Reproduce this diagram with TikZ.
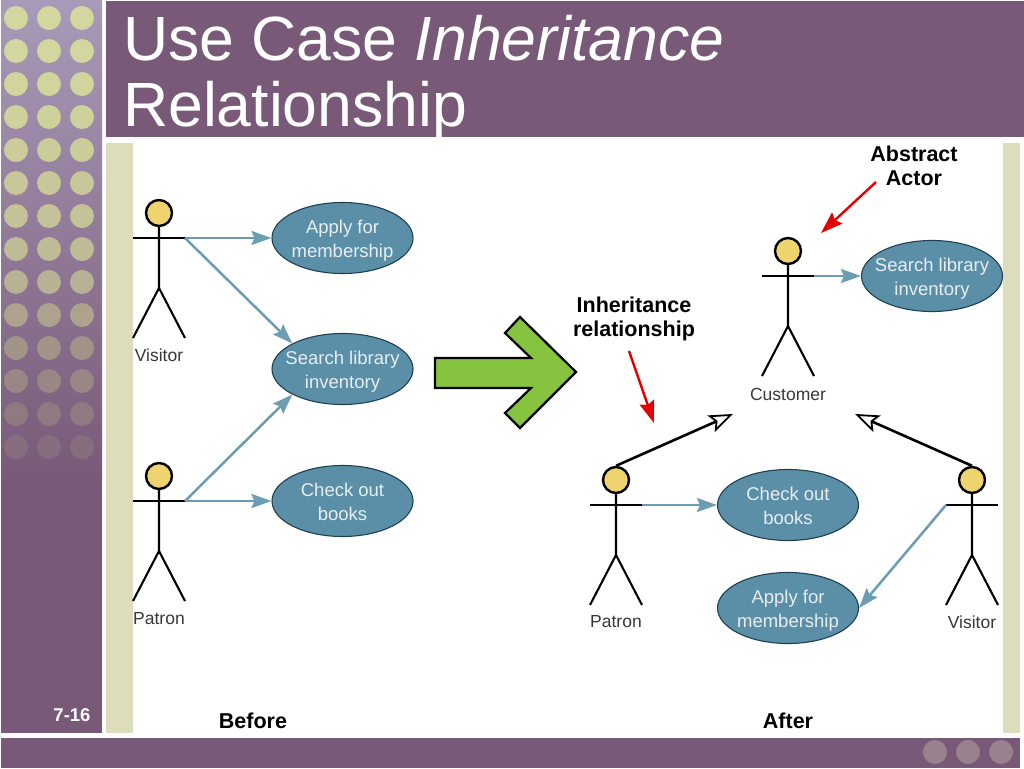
\documentclass[tikz,border=0pt]{standalone}
\usepackage{fontspec}
\setmainfont{Liberation Sans}
\usetikzlibrary{arrows.meta,shapes.geometric}
\definecolor{plum}{HTML}{785A78}
\definecolor{bandtop}{HTML}{A89AB8}
\definecolor{cream}{HTML}{DDDDBB}
\definecolor{dotc}{HTML}{D3D69E}
\definecolor{uc}{HTML}{5B8FA8}
\definecolor{ucedge}{HTML}{1F4050}
\definecolor{flow}{HTML}{6C9DB0}
\definecolor{headc}{HTML}{EFD36E}
\definecolor{arrowgreen}{HTML}{86C440}
\tikzset{
  x=1pt,y=-1pt,
  usecase/.style={ellipse,draw=ucedge,line width=1.1pt,fill=uc,minimum width=141pt,minimum height=71pt,inner sep=0pt,text=white!85!uc,font=\fontsize{18.5}{24}\selectfont},
  headnode/.style={circle,draw=black,line width=2.4pt,fill=headc,minimum size=26pt,inner sep=0pt},
  limb/.style={draw=black,line width=2.1pt},
  actorlabel/.style={font=\fontsize{17.5}{20}\selectfont,text=black!78},
  flowline/.style={draw=flow,line width=2.5pt,-{Stealth[length=20pt,width=14pt,inset=3pt]}},
  inherit/.style={draw=black,line width=2.6pt,-{Stealth[open,fill=white,length=24pt,width=18pt,inset=5pt,line width=1.8pt]}},
  callout/.style={draw=red!90!black,line width=2.4pt,-{Stealth[length=22pt,width=15pt,inset=3pt]}},
  capt/.style={font=\bfseries\fontsize{21.5}{24.5}\selectfont,align=center,text=black},
  dot/.style={circle,inner sep=0pt,minimum size=24pt},
}
\newcommand{\uct}[2]{\raisebox{-7pt}[20pt][20pt]{\makebox[0pt][c]{\begin{tabular}{@{}c@{}}#1\\#2\end{tabular}}}}
\newcommand{\actorfig}[6]{% id, x, y head centre, label dx, label dy, text
  \node[headnode] (#1h) at (#2,#3) {};
  \coordinate (#1l) at (#2-26,#3+25);
  \coordinate (#1r) at (#2+26,#3+25);
  \coordinate (#1p) at (#2,#3+75);
  \coordinate (#1a) at (#2-26,#3+125);
  \coordinate (#1b) at (#2+26,#3+125);
  \draw[limb] (#1h) -- (#1p) -- (#1a);
  \draw[limb] (#1p) -- (#1b);
  \draw[limb] (#1l) -- (#1r);
  \node[actorlabel] (#1t) at (#2+#4,#3+#5) {#6};
}
\begin{document}
\begin{tikzpicture}
\useasboundingbox (0,0) rectangle (1024,768);
\fill[white] (0,0) rectangle (1024,768);
% left band
\shade[top color=bandtop,bottom color=plum] (1,1) rectangle (102,480);
\fill[plum] (1,479) rectangle (102,733);
% dots
\foreach \r/\m in {0/100,1/100,2/98,3/96,4/92,5/88,6/84,7/78,8/70,9/58,10/46,11/36,12/26,13/16}{
  \pgfmathsetmacro{\yy}{18+33*\r}
  \foreach \cx in {16,49,82}{
    \node[dot,fill=dotc!\m!plum] at (\cx,\yy) {};
  }
}
% bars
\fill[plum] (106,1) rectangle (1024,137);
\fill[plum] (1,738) rectangle (1020,768);
\fill[cream] (106,143) rectangle (133,733);
\fill[cream] (1003,143) rectangle (1020,733);
\foreach \cx in {935,968,1001}{ \node[dot,fill=cream!30!plum] at (\cx,752) {}; }
% texts
\node[anchor=base west,inner sep=0pt,text=white,font=\fontsize{62.5}{72}\selectfont] (t1) at (123,60) {Use Case \textit{Inheritance}};
\node[anchor=base west,inner sep=0pt,text=white,font=\fontsize{62.5}{72}\selectfont] (t2) at (123,126) {Relationship};
\node[text=white,font=\bfseries\fontsize{18.5}{20}\selectfont] (pg) at (72,715) {7-16};
% use cases
\node[usecase] (u1) at (342.5,238) {\uct{Apply for}{membership}};
\node[usecase] (u2) at (342.5,369) {\uct{Search library}{inventory}};
\node[usecase] (u3) at (342.5,501) {\uct{Check out}{books}};
\node[usecase] (u4) at (932,276) {\uct{Search library}{inventory}};
\node[usecase] (u5) at (788,505) {\uct{Check out}{books}};
\node[usecase] (u6) at (788,608) {\uct{Apply for}{membership}};
% actors
\actorfig{V}{159}{213}{0}{142}{Visitor}
\actorfig{P}{159}{476}{0}{143}{Patron}
\actorfig{C}{788}{251}{0}{143}{Customer}
\actorfig{Q}{616}{480}{0}{142}{Patron}
\actorfig{W}{972}{480}{0}{142}{Visitor}
% flows
\draw[flowline] (Vr) -- (u1);
\draw[flowline] (Vr) -- (u2.153);
\draw[flowline] (Pr) -- (u2.207);
\draw[flowline] (Pr) -- (u3);
\draw[flowline] (Cr) -- (u4);
\draw[flowline] (Qr) -- (u5);
\draw[flowline] (Wl) -- (u6.east);
% inheritance
\coordinate (ci1) at (733,414);
\coordinate (ci2) at (855,414);
\draw[inherit] (Qh.north) -- (ci1);
\draw[inherit] (Wh.north) -- (ci2);
% big arrow
\draw[draw=black,line width=2.2pt,fill=arrowgreen,line join=miter]
 (435,358) -- (531,358) -- (505,333) -- (520,317) -- (576,372) -- (520,428) -- (505,413) -- (531,388) -- (435,388) -- cycle;
% captions
\node[capt] (c1) at (634,319) {Inheritance\\relationship};
\node[capt] (c2) at (914,166) {Abstract\\Actor};
\node[capt] (c3) at (253,721) {Before};
\node[capt] (c4) at (788,721) {After};
\coordinate (r1) at (654,423);
\coordinate (r2) at (821,233);
\coordinate (s1) at (629,351);
\coordinate (s2) at (876,182);
\draw[callout] (s1) -- (r1);
\draw[callout] (s2) -- (r2);
\end{tikzpicture}
\end{document}
